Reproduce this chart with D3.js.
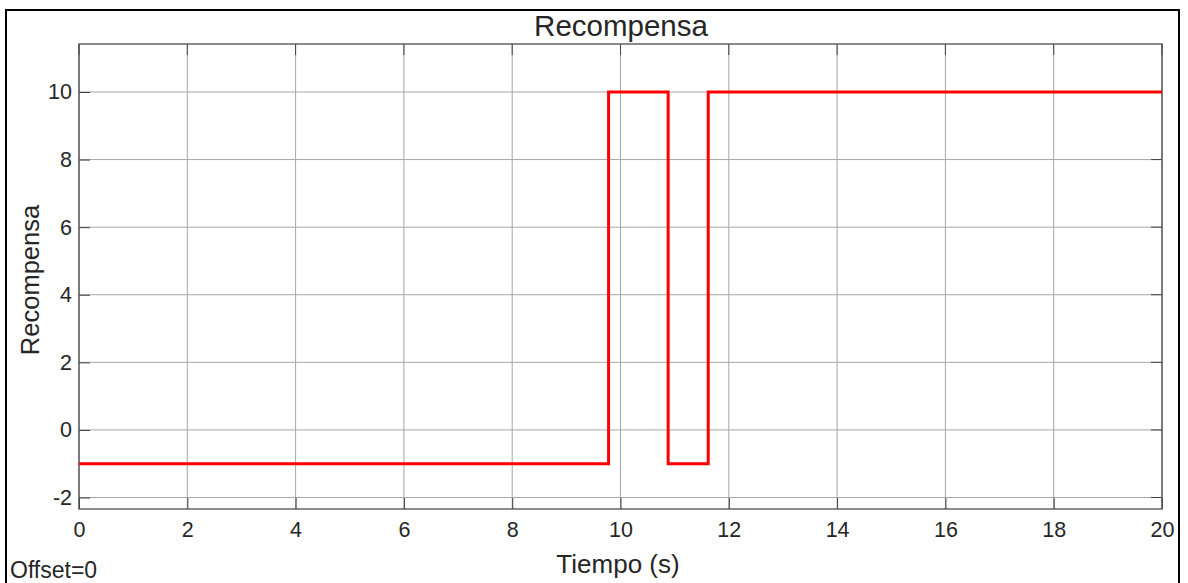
<!DOCTYPE html>
<html>
<head>
<meta charset="utf-8">
<script src="https://cdn.jsdelivr.net/npm/d3@7"></script>
<style>
body{margin:0;background:#fff;}
text{font-family:Arial,"Liberation Sans",sans-serif;fill:#262626;}
</style>
</head>
<body>
<svg id="fig" width="1188" height="583"></svg>
<script>
// step signal: time where each level starts, and the level
var times = [0, 9.78, 10.88, 11.62, 20];
var levels = [-1, 10, -1, 10, 10];
var xTicks = [0,2,4,6,8,10,12,14,16,18,20];
var yTicks = [-2,0,2,4,6,8,10];

var svg = d3.select("#fig");
var m = {l:79, r:1162, t:44, b:509};

var x = d3.scaleLinear().domain([0,20]).range([m.l, m.r]);
var y = d3.scaleLinear().domain([-2.34, 11.42]).range([m.b, m.t]);

// outer frame
svg.append("rect").attr("x",6).attr("y",10).attr("width",1173).attr("height",600)
    .attr("fill","#fff").attr("stroke","#000").attr("stroke-width",2);

var g = svg.append("g");

// grid
g.selectAll(".gx").data(xTicks).enter().append("line")
    .attr("x1",d=>x(d)).attr("x2",d=>x(d)).attr("y1",m.t).attr("y2",m.b)
    .attr("stroke","#a6a6a6").attr("stroke-width",1);
g.selectAll(".gy").data(yTicks).enter().append("line")
    .attr("y1",d=>y(d)).attr("y2",d=>y(d)).attr("x1",m.l).attr("x2",m.r)
    .attr("stroke","#a6a6a6").attr("stroke-width",1);

// axes, ticks pointing inwards
var xa = g.append("g").attr("transform","translate(0,"+m.b+")")
    .call(d3.axisBottom(x).tickValues(xTicks).tickSizeInner(-11).tickSizeOuter(0).tickPadding(13));
var ya = g.append("g").attr("transform","translate("+m.l+",0)")
    .call(d3.axisLeft(y).tickValues(yTicks).tickSizeInner(-11).tickSizeOuter(0).tickPadding(7)
          .tickFormat(d => String(d)));
[xa,ya].forEach(function(a){
    a.select(".domain").remove();
    a.selectAll(".tick line").attr("stroke","#404040");
    a.selectAll(".tick text").style("font-size","21.5px").attr("fill","#262626");
});
// top/right ticks
g.selectAll(".tt").data(xTicks).enter().append("line")
    .attr("x1",d=>x(d)).attr("x2",d=>x(d)).attr("y1",m.t).attr("y2",m.t+11).attr("stroke","#404040");
g.selectAll(".tr").data(yTicks).enter().append("line")
    .attr("y1",d=>y(d)).attr("y2",d=>y(d)).attr("x1",m.r-11).attr("x2",m.r).attr("stroke","#404040");

// plot box
g.append("rect").attr("x",m.l).attr("y",m.t).attr("width",m.r-m.l).attr("height",m.b-m.t)
    .attr("fill","none").attr("stroke","#4d4d4d").attr("stroke-width",1.3);

// signal
var pts = times.map(function(t,i){ return [t, levels[i]]; });
var line = d3.line().x(d=>x(d[0])).y(d=>y(d[1])).curve(d3.curveStepAfter);
g.append("path").datum(pts).attr("d",line)
    .attr("fill","none").attr("stroke","#ff0000").attr("stroke-width",3);

// labels
svg.append("text").attr("x",621).attr("y",36).attr("text-anchor","middle")
    .style("font-size","29.5px").text("Recompensa");
svg.append("text").attr("x",618).attr("y",573).attr("text-anchor","middle")
    .style("font-size","26px").text("Tiempo (s)");
svg.append("text").attr("transform","translate(39,280) rotate(-90)")
    .attr("text-anchor","middle").style("font-size","25.5px").text("Recompensa");
svg.append("text").attr("x",10).attr("y",578).style("font-size","23px").text("Offset=0");
</script>
</body>
</html>
